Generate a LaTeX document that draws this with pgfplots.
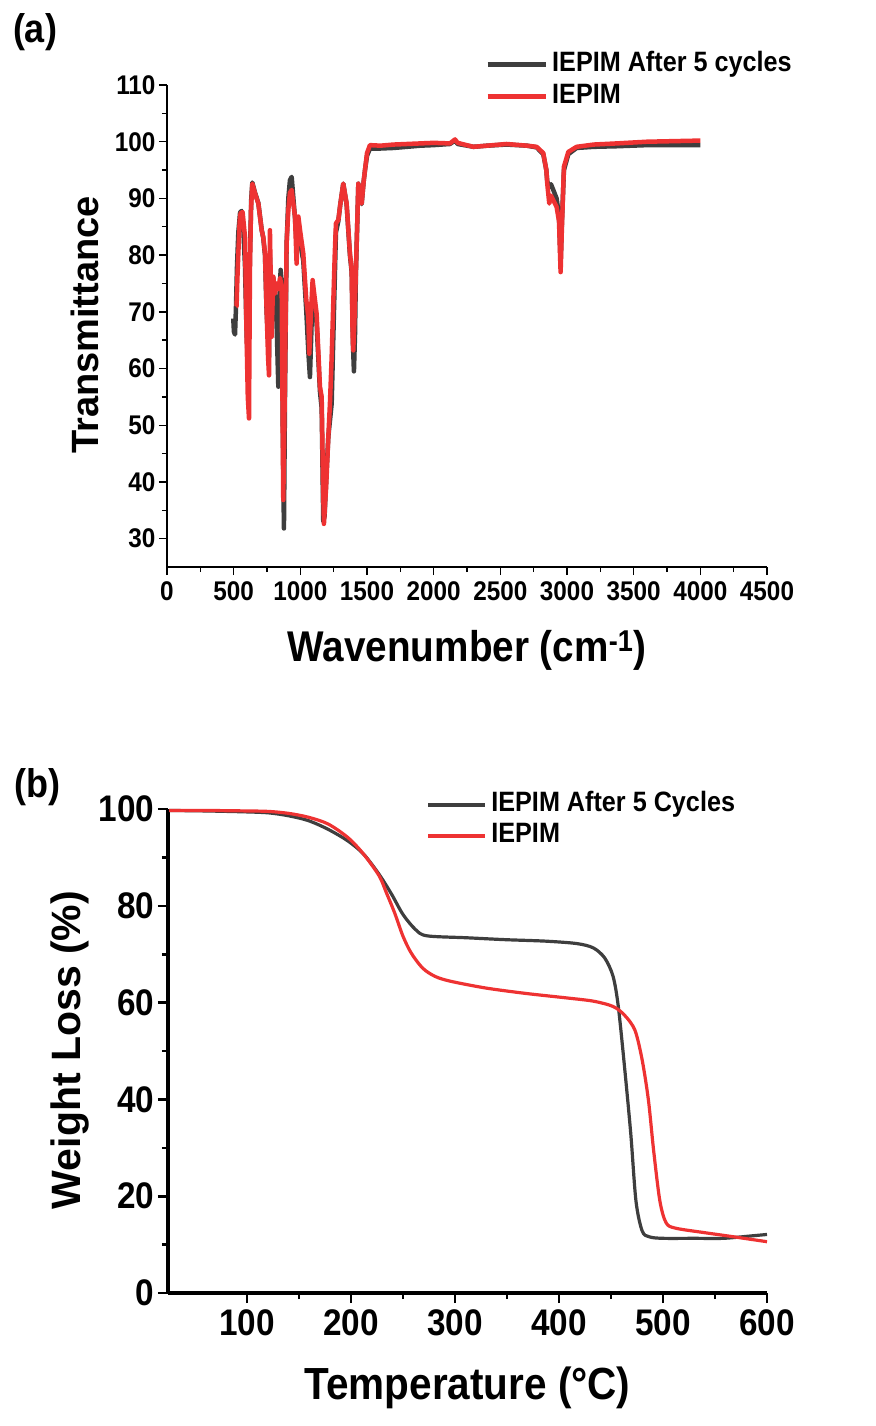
\documentclass[border=0pt]{standalone}
\usepackage{pgfplots}
\pgfplotsset{compat=1.18}
\usepackage{fontspec}
\setmainfont{Liberation Sans}
\newfontfamily\cond{Liberation Sans}[FakeStretch=0.9]
\definecolor{cblk}{RGB}{62,62,62}
\definecolor{cred}{RGB}{238,50,50}
\begin{document}
\begin{tikzpicture}
\useasboundingbox (0,0) rectangle (875pt,-1426pt);
\node[anchor=center,font=\cond\bfseries\fontsize{40}{40}\selectfont] at (35pt,-32pt) {(a)};
\node[anchor=center,font=\cond\bfseries\fontsize{40}{40}\selectfont] at (37pt,-787pt) {(b)};
\begin{axis}[
  at={(167pt,-567pt)}, anchor=south west,
  width=600pt, height=482pt, scale only axis,
  xmin=0, xmax=4500, ymin=25, ymax=110,
  axis x line*=bottom, axis y line*=left,
  axis line style={line width=1.6pt},
  every tick/.style={line width=1.4pt, black},
  tick align=outside,
  major tick length=8pt, minor tick length=5pt,
  xtick={0,500,...,4500}, minor x tick num=1,
  ytick={30,40,...,110}, minor y tick num=1,
  /pgf/number format/assume math mode=true,
  /pgf/number format/1000 sep={},
  ticklabel style={font=\cond\bfseries\fontsize{27}{27}\selectfont},
  xticklabel style={yshift=-3pt},
  xlabel={Wavenumber (cm\textsuperscript{-1})},
  ylabel={Transmittance},
  xlabel style={font=\cond\bfseries\fontsize{43}{43}\selectfont, at={(axis description cs:0.5,-0.172)}, anchor=center},
  ylabel style={font=\bfseries\fontsize{38}{38}\selectfont, at={(axis description cs:-0.137,0.502)}, anchor=center},
  legend style={draw=none, fill=none, at={(rel axis cs:0.530,1.066)}, anchor=north west,
    inner sep=0pt, font=\cond\bfseries\fontsize{28}{28}\selectfont, row sep=9pt,
    nodes={inner xsep=4pt, inner ysep=0pt, text height=18pt, text depth=5pt}},
  legend cell align=left,
  legend image code/.code={\draw[#1, line width=5pt] (0pt,0pt) -- (58pt,0pt);},
  clip=false,
]
\addplot[cblk, line width=4.5pt, line join=round] coordinates {
(497,68.8)(502,66.5)(510,66.0)(517,70.5)(525,78)(535,84)(548,87.5)(560,87.8)(572,85)(585,78)(597,66)(605,62)(615,70)(622,80)(632,90)(640,92.8)(660,91)(685,89.2)(710,84.5)(722,83)(735,80)(747,70)(765,62)(772,80)(785,68)(797,76)(810,73)(822,68)(835,56.8)(845,72)(852,77.4)(860,75)(868,50)(877,31.8)(885,55)(897,82)(910,90)(922,93.2)(935,93.8)(948,90)(960,86.5)(972,82)(985,84)(1000,82)(1022,79)(1045,70)(1060,63)(1072,58.5)(1082,66)(1092,74)(1105,72)(1122,68)(1147,56)(1160,53)(1172,33)(1182,34)(1197,42)(1210,48)(1235,53.8)(1250,68)(1267,84)(1285,86)(1300,89)(1322,92.6)(1347,89)(1372,80)(1385,77)(1395,64)(1402,59.5)(1410,66)(1417,77)(1435,92.6)(1450,90)(1460,89)(1475,93)(1485,95)(1500,97.5)(1522,98.8)(1600,98.8)(1700,98.9)(1800,99.1)(1900,99.3)(2000,99.4)(2122,99.6)(2160,100.2)(2180,99.6)(2300,99.1)(2400,99.3)(2547,99.5)(2700,99.3)(2772,99.0)(2822,97.8)(2845,95)(2852,93)(2867,92)(2880,92.5)(2897,91.5)(2922,90)(2940,87)(2952,78.5)(2962,86)(2977,95)(3010,97.8)(3072,98.9)(3200,99.1)(3372,99.2)(3600,99.4)(3800,99.4)(4000,99.4)
};
\addlegendentry{IEPIM After 5 cycles}
\addplot[cred, line width=4.5pt, line join=round] coordinates {
(517,70.9)(522,71)(528,76)(535,80.3)(545,86)(552,87.4)(567,87.6)(585,83.2)(597,65.6)(606,55)(615,51.2)(622,77.4)(630,88)(640,92.6)(660,90.9)(685,89.1)(710,84.4)(722,83.2)(735,80.3)(747,70.3)(758,62)(765,58.8)(772,84.4)(785,65.6)(797,76.2)(810,73.2)(822,75)(835,74)(848,76)(860,74.4)(866,55)(872,36.8)(880,50)(897,82)(910,88)(922,91)(935,91.5)(948,89)(960,86.8)(972,78.5)(985,86.8)(1000,84)(1022,80.3)(1045,72)(1060,69.1)(1067,62.6)(1080,70)(1092,75.6)(1105,73)(1122,69.7)(1147,56.8)(1160,55)(1170,40)(1177,32.6)(1185,36)(1192,38.5)(1197,40.9)(1210,48)(1222,53.8)(1235,62)(1247,71.5)(1258,80)(1267,85.6)(1285,86.2)(1300,89)(1322,92.6)(1347,89.1)(1372,80.3)(1385,77.4)(1392,66)(1397,63.2)(1405,68)(1417,77.4)(1435,92.6)(1450,90)(1460,89.1)(1475,93)(1485,95)(1500,98)(1522,99.4)(1600,99.3)(1700,99.5)(1800,99.6)(1900,99.7)(2000,99.8)(2122,99.7)(2160,100.4)(2180,99.8)(2297,99.1)(2400,99.3)(2547,99.6)(2700,99.3)(2772,99.1)(2822,98.0)(2845,95)(2852,92.6)(2867,89.1)(2880,90.5)(2897,89.7)(2922,88.5)(2940,86)(2952,77.0)(2962,85)(2977,95.6)(3010,98.2)(3072,99.1)(3200,99.5)(3372,99.7)(3600,100.0)(3800,100.1)(4000,100.2)
};
\addlegendentry{IEPIM}
\end{axis}
\begin{axis}[
  at={(168pt,-1293pt)}, anchor=south west,
  width=599pt, height=484pt, scale only axis,
  xmin=24, xmax=600, ymin=0, ymax=100,
  axis x line*=bottom, axis y line*=left,
  axis line style={line width=3.2pt},
  every tick/.style={line width=2.6pt, black},
  tick align=outside,
  major tick length=10pt, minor tick length=6pt,
  xtick={100,200,...,600}, minor x tick num=1,
  ytick={0,20,...,100}, minor y tick num=1,
  /pgf/number format/assume math mode=true,
  ticklabel style={font=\cond\bfseries\fontsize{37}{37}\selectfont},
  xticklabel style={yshift=-3pt},
  xlabel={Temperature (°C)},
  ylabel={Weight Loss (\%)},
  xlabel style={font=\cond\bfseries\fontsize{45}{45}\selectfont, at={(axis description cs:0.5,-0.196)}, anchor=center},
  ylabel style={font=\bfseries\fontsize{41}{41}\selectfont, at={(axis description cs:-0.164,0.502)}, anchor=center},
  legend style={draw=none, fill=none, at={(rel axis cs:0.431,1.033)}, anchor=north west,
    inner sep=0pt, font=\cond\bfseries\fontsize{28}{28}\selectfont, row sep=8pt,
    nodes={inner xsep=4pt, inner ysep=0pt, text height=18pt, text depth=5pt}},
  legend cell align=left,
  legend image code/.code={\draw[#1, line width=4pt] (0pt,0pt) -- (57pt,0pt);},
  clip=false,
]
\addplot[cblk, line width=3.2pt, smooth] coordinates {
(25,99.7)(60,99.6)(100,99.4)(121,99.2)(140,98.6)(159,97.6)(178,95.8)(197,93.4)(212,90.7)(227,86.5)(239,82.4)(250,78.2)(262,75.1)(273,73.8)(311,73.4)(349,73.0)(387,72.7)(417,72.2)(433,71.3)(444,69.2)(452,65.4)(457,59.2)(463,46.7)(469,32.9)(474,19.0)(480,12.8)(487,11.6)(500,11.3)(530,11.3)(558,11.3)(585,11.8)(600,12.1)
};
\addlegendentry{IEPIM After 5 Cycles}
\addplot[cred, line width=3.2pt, smooth] coordinates {
(25,99.7)(60,99.7)(100,99.6)(121,99.5)(140,99.1)(159,98.3)(178,96.9)(197,94.1)(212,90.7)(227,86.2)(234,82.7)(242,78.5)(250,73.7)(258,70.2)(269,67.1)(281,65.4)(296,64.4)(330,63.0)(368,61.9)(406,61.0)(433,60.3)(452,59.2)(463,57.4)(473,54.3)(480,48.1)(486,39.8)(491,29.4)(497,19.0)(503,14.5)(512,13.4)(539,12.5)(562,11.8)(600,10.6)
};
\addlegendentry{IEPIM}
\end{axis}
\end{tikzpicture}
\end{document}
